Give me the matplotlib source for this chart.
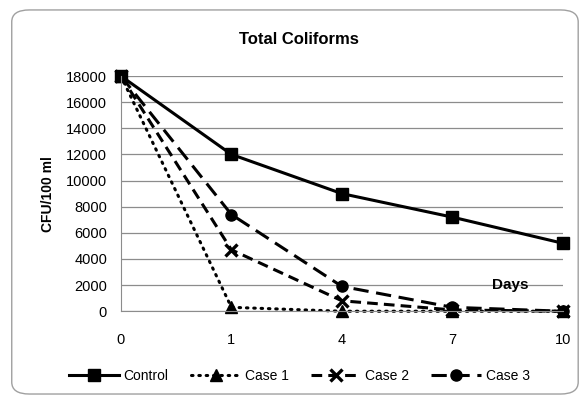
import matplotlib.pyplot as plt
from matplotlib.patches import FancyBboxPatch

plt.rcParams['font.family'] = ['Liberation Sans', 'DejaVu Sans']

# data
days = ['0', '1', '4', '7', '10']
control = [18000, 12000, 9000, 7200, 5200]
case1 = [18000, 300, 0, 0, 0]
case2 = [18000, 4700, 800, 100, 0]
case3 = [18000, 7400, 1900, 300, 0]

fig = plt.figure(figsize=(5.87, 3.98), dpi=100)
fig.patch.set_facecolor('white')

# rounded frame round the chart
frame = FancyBboxPatch((0.02, 0.01), 0.965, 0.965, boxstyle='round,pad=0,rounding_size=0.03',
                       transform=fig.transFigure, facecolor='white', edgecolor='#a0a0a0',
                       linewidth=1.0, zorder=-5)
fig.patches.append(frame)

ax = fig.add_axes([0.206, 0.218, 0.753, 0.591])
ax.set_zorder(2)
ax.patch.set_alpha(0)
x = range(len(days))

ax.plot(x, control, color='black', linestyle='-', linewidth=2.2, marker='s', markersize=8, label='Control',
        clip_on=False)
ax.plot(x, case1, color='black', linestyle=(0, (0.5, 1.9)), dash_capstyle='round', linewidth=2.2,
        marker='^', markersize=8, label='Case 1', clip_on=False)
ax.plot(x, case2, color='black', linestyle=(0, (3.5, 2.0)), linewidth=2.2, marker='x', markersize=8,
        markeredgewidth=2.4, label='Case 2', clip_on=False)
ax.plot(x, case3, color='black', linestyle=(0, (5, 2.5)), linewidth=2.2, marker='o', markersize=8,
        label='Case 3', clip_on=False)

ax.set_xlim(0, len(days) - 1)
ax.set_ylim(0, 18000)
ax.set_xticks(list(x))
ax.set_xticklabels(days, fontsize=10.5)
ax.set_yticks(range(0, 18001, 2000))
ax.tick_params(axis='y', labelsize=10.5, length=0, pad=10)
ax.tick_params(axis='x', length=0, pad=16)
ax.yaxis.grid(True, color='#8c8c8c', linewidth=0.9)
ax.set_axisbelow(True)
for side in ['top', 'right']:
    ax.spines[side].set_visible(False)
ax.spines['left'].set_color('#8c8c8c')
ax.spines['bottom'].set_color('#8c8c8c')

ax.set_ylabel('CFU/100 ml', fontsize=10, fontweight='bold', labelpad=8)
fig.text(0.51, 0.9, 'Total Coliforms', fontsize=12, fontweight='bold', ha='center', va='center')
ax.text(3.36, 1700, 'Days', fontsize=11, fontweight='bold')

fig.legend(loc='center', bbox_to_anchor=(0.51, 0.055), ncol=4, frameon=False, fontsize=10,
           handlelength=3.6, handletextpad=0.3, columnspacing=1.6)

plt.savefig('out.png', dpi=100)
